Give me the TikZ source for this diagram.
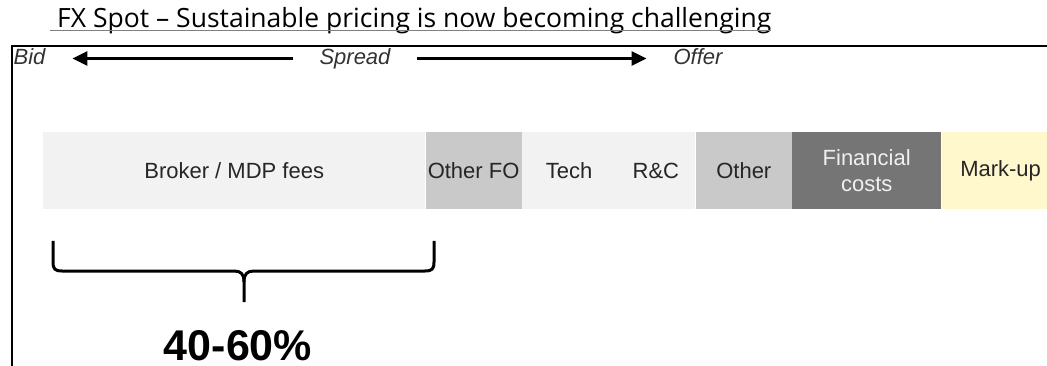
\documentclass[tikz,border=0pt]{standalone}
\usepackage{fontspec}
\setmainfont{Liberation Sans}
\newfontfamily\titlefont{Open Sans}
\usetikzlibrary{arrows.meta}
\usetikzlibrary{calc}
\definecolor{seglight}{HTML}{F2F2F2}
\definecolor{segmid}{HTML}{C9C9C9}
\definecolor{segdark}{HTML}{757575}
\definecolor{segyellow}{HTML}{FFF8CD}

\begin{document}
\begin{tikzpicture}[x=1pt,y=-1pt,
    seg/.style={minimum height=77pt, inner sep=0pt, anchor=west, align=center, text=black!85,
        font=\fontsize{22}{26}\selectfont},
    sidelabel/.style={inner sep=0pt, text height=16pt, text depth=4pt, outer xsep=27pt,
        text=black!80, font=\fontsize{22}{26}\selectfont\itshape},
    spreadarrow/.style={line width=3pt, -{Triangle[length=15pt,width=14pt]}}]
                \useasboundingbox (0,0) rectangle (1047,366);
                \node[anchor=base west, inner sep=0pt, font=\titlefont\fontsize{26.5}{30}\selectfont] (title) at (57,28) {FX Spot – Sustainable pricing is now becoming challenging};
                \draw[gray, line width=1pt] ($(title.base west)+(-7pt,-3pt)$) -- ($(title.base east)+(0pt,-3pt)$);
                \draw[line width=2.2pt] (12,370) -- (12,46) -- (1050,46);
                \node[sidelabel] (bid) at (29.5,58.5) {Bid};
                \node[sidelabel] (spread) at (355,58.5) {Spread};
                \node[sidelabel] (offer) at (698,58.5) {Offer};
                \draw[spreadarrow] (spread) to (bid);
                \draw[spreadarrow] (spread) to (offer);
                \node[seg, fill=seglight, minimum width=382pt] (broker) at (43,170.5) {Broker / MDP fees};
                \node[seg, fill=segmid, minimum width=96pt] (otherfo) at (broker.east) {Other FO};
                \node[seg, fill=seglight, minimum width=94pt] (tech) at (otherfo.east) {Tech};
                \node[seg, fill=seglight, minimum width=79pt] (rc) at (tech.east) {R\&C};
                \node[seg, fill=segmid, minimum width=96pt] (other) at (rc.east) {Other};
                \node[seg, fill=segdark, minimum width=149pt, text=white!94!black] (fincost) at (other.east) {Financial\\costs};
                \node[seg, fill=segyellow, minimum width=118pt] (markup) at (fincost.east) {Mark-up};
                \draw[line width=3pt, line join=round] (53,241) -- (53,262) .. controls (53,269) and (55,271) .. (62,271) -- (234,271) .. controls (241,271) and (244,274) .. (244,282) -- (244,302);
                \draw[line width=3pt, line join=round] (434,241) -- (434,262) .. controls (434,269) and (432,271) .. (425,271) -- (254,271) .. controls (247,271) and (244,274) .. (244,282);
                \node[anchor=base, inner sep=0pt, font=\fontsize{43}{48}\selectfont\bfseries] (share) at (238,360) {40-60\%};
            \end{tikzpicture}
\end{document}
